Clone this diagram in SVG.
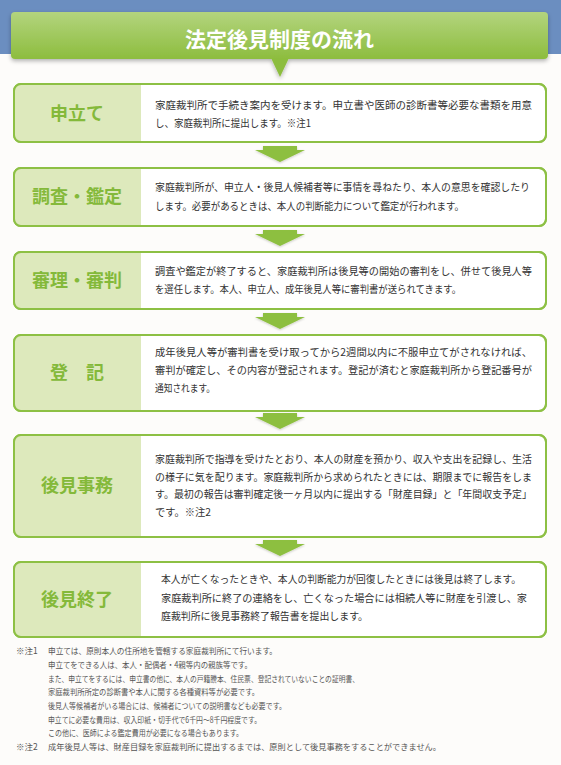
<svg xmlns="http://www.w3.org/2000/svg" width="561" height="765" viewBox="0 0 561 765">
<defs>
<linearGradient id="bannerGrad" x1="0" y1="0" x2="0" y2="1">
<stop offset="0" stop-color="#b3d47e"/>
<stop offset="1" stop-color="#8dbd3e"/>
</linearGradient>
<filter id="shadow" x="-5%" y="-20%" width="110%" height="160%">
<feDropShadow dx="0" dy="2" stdDeviation="2" flood-color="#000" flood-opacity="0.3"/>
</filter>
<filter id="ashadow" x="-20%" y="-20%" width="140%" height="160%">
<feDropShadow dx="0" dy="1" stdDeviation="1" flood-color="#000" flood-opacity="0.2"/>
</filter>
</defs>
<style>
.box{fill:#ffffff;stroke:#8dc044;stroke-width:2}
.lab{fill:#dde9bc}
.frame{fill:none;stroke:#8dc044;stroke-width:2}
.lt{font-family:"Noto Sans CJK JP","Noto Sans",sans-serif;font-weight:bold;font-size:18px;fill:#84b93a;text-anchor:middle}
.bt{font-family:"Noto Sans CJK JP","Noto Sans",sans-serif;font-size:10.5px;fill:#333333}
.fn{font-family:"Noto Sans CJK JP","Noto Sans",sans-serif;font-size:8.5px;fill:#555555}
.arr{fill:#8dbf3f}
</style>
<rect x="0" y="0" width="561" height="765" fill="#fdfcfa"/>
<rect x="0" y="0" width="561" height="54" fill="#6b8ec0"/>

<g id="title" filter="url(#shadow)">
<rect x="11" y="12" width="537" height="47" rx="4" fill="url(#bannerGrad)"/>
<polygon points="271,58 289,58 280,77" fill="#8dbd3e"/>
</g>
<text x="279.5" y="46.5" font-family="Noto Sans CJK JP, Noto Sans, sans-serif" font-weight="bold" font-size="21" fill="#ffffff" text-anchor="middle">法定後見制度の流れ</text>

<g id="connectors" filter="url(#ashadow)">
<polygon class="arr" points="263,146 297,146 297,150 305,150 280,162 255,150 263,150"/>
<polygon class="arr" points="263,230 297,230 297,234 305,234 280,246 255,234 263,234"/>
<polygon class="arr" points="263,313 297,313 297,317 305,317 280,329 255,317 263,317"/>
<polygon class="arr" points="263,413 297,413 297,417 305,417 280,429 255,417 263,417"/>
<polygon class="arr" points="263,540 297,540 297,544 305,544 280,556 255,544 263,544"/>
</g>

<g id="step1">
<rect class="box" x="14" y="84" width="532" height="58" rx="7"/>
<path class="lab" d="M21,84 H141 V142 H21 A7,7 0 0 1 14,135 V91 A7,7 0 0 1 21,84 Z"/>
<rect class="frame" x="14" y="84" width="532" height="58" rx="7"/>
<text class="lt" x="77" y="119.5">申立て</text>
<text class="bt" x="155" y="109" textLength="377" lengthAdjust="spacingAndGlyphs">家庭裁判所で手続き案内を受けます。申立書や医師の診断書等必要な書類を用意</text>
<text class="bt" x="155" y="127" textLength="156" lengthAdjust="spacingAndGlyphs">し、家庭裁判所に提出します。※注1</text>
</g>

<g id="step2">
<rect class="box" x="14" y="168" width="532" height="58" rx="7"/>
<path class="lab" d="M21,168 H141 V226 H21 A7,7 0 0 1 14,219 V175 A7,7 0 0 1 21,168 Z"/>
<rect class="frame" x="14" y="168" width="532" height="58" rx="7"/>
<text class="lt" x="77" y="203">調査・鑑定</text>
<text class="bt" x="155" y="191" textLength="375" lengthAdjust="spacingAndGlyphs">家庭裁判所が、申立人・後見人候補者等に事情を尋ねたり、本人の意思を確認したり</text>
<text class="bt" x="155" y="210" textLength="309" lengthAdjust="spacingAndGlyphs">します。必要があるときは、本人の判断能力について鑑定が行われます。</text>
</g>

<g id="step3">
<rect class="box" x="14" y="252" width="532" height="57" rx="7"/>
<path class="lab" d="M21,252 H141 V309 H21 A7,7 0 0 1 14,302 V259 A7,7 0 0 1 21,252 Z"/>
<rect class="frame" x="14" y="252" width="532" height="57" rx="7"/>
<text class="lt" x="77" y="286.5">審理・審判</text>
<text class="bt" x="155" y="275" textLength="377" lengthAdjust="spacingAndGlyphs">調査や鑑定が終了すると、家庭裁判所は後見等の開始の審判をし、併せて後見人等</text>
<text class="bt" x="155" y="293" textLength="306" lengthAdjust="spacingAndGlyphs">を選任します。本人、申立人、成年後見人等に審判書が送られてきます。</text>
</g>

<g id="step4">
<rect class="box" x="14" y="335" width="532" height="76" rx="7"/>
<path class="lab" d="M21,335 H141 V411 H21 A7,7 0 0 1 14,404 V342 A7,7 0 0 1 21,335 Z"/>
<rect class="frame" x="14" y="335" width="532" height="76" rx="7"/>
<text class="lt" x="77" y="379">登　記</text>
<text class="bt" x="155" y="356" textLength="377" lengthAdjust="spacingAndGlyphs">成年後見人等が審判書を受け取ってから2週間以内に不服申立てがされなければ、</text>
<text class="bt" x="155" y="374" textLength="377" lengthAdjust="spacingAndGlyphs">審判が確定し、その内容が登記されます。登記が済むと家庭裁判所から登記番号が</text>
<text class="bt" x="155" y="392" textLength="60" lengthAdjust="spacingAndGlyphs">通知されます。</text>
</g>

<g id="step5">
<rect class="box" x="14" y="435" width="532" height="102" rx="7"/>
<path class="lab" d="M21,435 H141 V537 H21 A7,7 0 0 1 14,530 V442 A7,7 0 0 1 21,435 Z"/>
<rect class="frame" x="14" y="435" width="532" height="102" rx="7"/>
<text class="lt" x="77" y="492">後見事務</text>
<text class="bt" x="155" y="463" textLength="377" lengthAdjust="spacingAndGlyphs">家庭裁判所で指導を受けたとおり、本人の財産を預かり、収入や支出を記録し、生活</text>
<text class="bt" x="155" y="480.5" textLength="377" lengthAdjust="spacingAndGlyphs">の様子に気を配ります。家庭裁判所から求められたときには、期限までに報告をしま</text>
<text class="bt" x="155" y="498" textLength="377" lengthAdjust="spacingAndGlyphs">す。最初の報告は審判確定後一ヶ月以内に提出する「財産目録」と「年間収支予定」</text>
<text class="bt" x="155" y="515.5" textLength="56" lengthAdjust="spacingAndGlyphs">です。※注2</text>
</g>

<g id="step6">
<rect class="box" x="14" y="562" width="532" height="75" rx="7"/>
<path class="lab" d="M21,562 H141 V637 H21 A7,7 0 0 1 14,630 V569 A7,7 0 0 1 21,562 Z"/>
<rect class="frame" x="14" y="562" width="532" height="75" rx="7"/>
<text class="lt" x="77" y="605.5">後見終了</text>
<text class="bt" x="161" y="583" textLength="360" lengthAdjust="spacingAndGlyphs">本人が亡くなったときや、本人の判断能力が回復したときには後見は終了します。</text>
<text class="bt" x="161" y="602" textLength="366" lengthAdjust="spacingAndGlyphs">家庭裁判所に終了の連絡をし、亡くなった場合には相続人等に財産を引渡し、家</text>
<text class="bt" x="161" y="620" textLength="207" lengthAdjust="spacingAndGlyphs">庭裁判所に後見事務終了報告書を提出します。</text>
</g>

<g id="notes">
<text class="fn" x="16" y="654">※注1</text>
<text class="fn" x="48" y="654" textLength="229" lengthAdjust="spacingAndGlyphs">申立ては、原則本人の住所地を管轄する家庭裁判所にて行います。</text>
<text class="fn" x="48" y="668" textLength="204" lengthAdjust="spacingAndGlyphs">申立てをできる人は、本人・配偶者・4親等内の親族等です。</text>
<text class="fn" x="48" y="681.5" textLength="311" lengthAdjust="spacingAndGlyphs">また、申立てをするには、申立書の他に、本人の戸籍謄本、住民票、登記されていないことの証明書、</text>
<text class="fn" x="48" y="695" textLength="211" lengthAdjust="spacingAndGlyphs">家庭裁判所所定の診断書や本人に関する各種資料等が必要です。</text>
<text class="fn" x="48" y="709" textLength="238" lengthAdjust="spacingAndGlyphs">後見人等候補者がいる場合には、候補者についての説明書なども必要です。</text>
<text class="fn" x="48" y="722.5" textLength="213" lengthAdjust="spacingAndGlyphs">申立てに必要な費用は、収入印紙・切手代で6千円～8千円程度です。</text>
<text class="fn" x="48" y="736" textLength="195" lengthAdjust="spacingAndGlyphs">この他に、医師による鑑定費用が必要になる場合もあります。</text>
<text class="fn" x="16" y="750">※注2</text>
<text class="fn" x="48" y="750" textLength="393" lengthAdjust="spacingAndGlyphs">成年後見人等は、財産目録を家庭裁判所に提出するまでは、原則として後見事務をすることができません。</text>
</g>
</svg>
